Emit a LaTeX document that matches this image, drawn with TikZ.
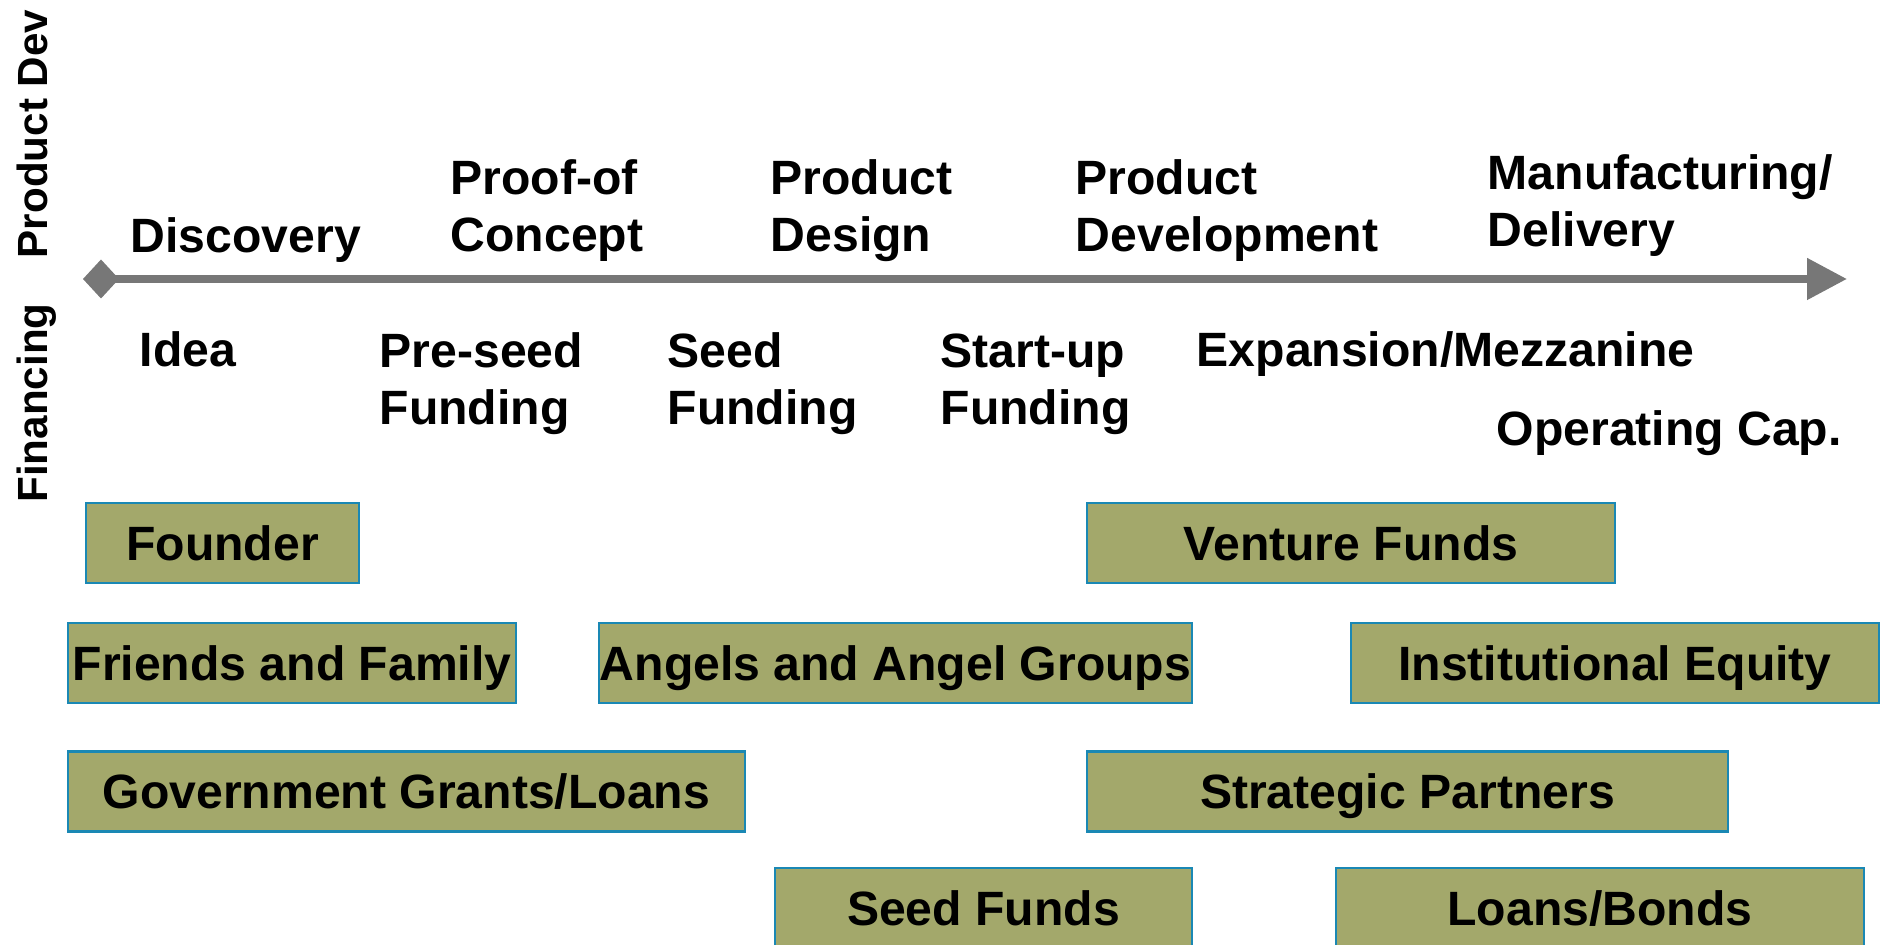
\documentclass[tikz,border=0pt]{standalone}
\usepackage{fontspec}
\setmainfont{Liberation Sans}
\usetikzlibrary{arrows.meta}

\definecolor{fundfill}{HTML}{A3A86B}
\definecolor{fundline}{HTML}{1A88B4}
\definecolor{axisgray}{HTML}{777777}

\begin{document}
\begin{tikzpicture}[
  fund/.style = {draw=fundline, fill=fundfill, line width=0.6pt, minimum height=0.8cm,
                 text height=0.345cm, text depth=0pt, inner sep=0pt,
                 font=\bfseries\fontsize{13.7}{16.4}\selectfont},
  stage/.style = {anchor=base west, align=left, inner sep=0pt,
                  font=\bfseries\fontsize{13.7}{16.4}\selectfont},
  side/.style = {rotate=90, anchor=base, inner sep=0pt,
                 font=\bfseries\fontsize{12}{14}\selectfont},
  axis/.style = {line width=0.08cm, axisgray,
                 {Diamond[length=0.36cm, width=0.39cm]}-{Triangle[length=0.4cm, width=0.4cm]}}
]

\useasboundingbox (0,0) rectangle (18.81,-9.45);

% Row headings
\node[side] (proddev) at (0.47,-1.34) {Product Dev};
\node[side] (financing) at (0.47,-4.03) {Financing};

% Time line
\coordinate (start) at (0.83,-2.79);
\coordinate (finish) at (18.47,-2.79);
\draw[axis] (start) -- (finish);

% Development stages (base = last line)
\node[stage] (discovery) at (1.30,-2.53) {Discovery};
\node[stage] (proof) at (4.50,-2.52) {Proof-of\\Concept};
\node[stage] (design) at (7.70,-2.52) {Product\\Design};
\node[stage] (development) at (10.75,-2.52) {Product\\Development};
\node[stage] (delivery) at (14.87,-2.47) {Manufacturing/\\Delivery};

% Financing stages
\node[stage] (idea) at (1.39,-3.67) {Idea};
\node[stage] (preseed) at (3.79,-4.25) {Pre-seed\\Funding};
\node[stage] (seed) at (6.67,-4.25) {Seed\\Funding};
\node[stage] (startup) at (9.40,-4.25) {Start-up\\Funding};
\node[stage] (expansion) at (11.96,-3.67) {Expansion/Mezzanine};
\node[stage] (opcap) at (14.96,-4.46) {Operating Cap.};

% Sources of money
\node[fund, minimum width=2.73cm] (founder) at (2.225,-5.43) {Founder};
\node[fund, minimum width=5.28cm] (venture) at (13.51,-5.43) {Venture Funds};
\node[fund, minimum width=4.48cm] (friends) at (2.92,-6.63) {Friends and Family};
\node[fund, minimum width=5.93cm] (angels) at (8.955,-6.63) {Angels and Angel Groups};
\node[fund, minimum width=5.28cm] (institutional) at (16.15,-6.63) {Institutional Equity};
\node[fund, minimum width=6.77cm] (government) at (4.065,-7.915) {Government Grants/Loans};
\node[fund, minimum width=6.41cm] (strategic) at (14.075,-7.915) {Strategic Partners};
\node[fund, minimum width=4.17cm] (seedfunds) at (9.835,-9.08) {Seed Funds};
\node[fund, minimum width=5.28cm] (loans) at (16.00,-9.08) {Loans/Bonds};

\end{tikzpicture}
\end{document}
